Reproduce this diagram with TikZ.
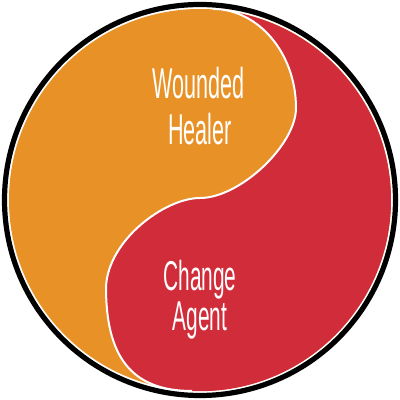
\documentclass[tikz,border=0pt]{standalone}
\usepackage{fontspec}
\usepackage{tikz}
\usepackage{xcolor}
\newfontfamily\labelfont[FakeStretch=0.5]{Liberation Sans}
\definecolor{healerorange}{RGB}{232,145,38}
\definecolor{agentred}{RGB}{209,44,57}

\begin{document}
\begin{tikzpicture}[x=0.025cm,y=0.025cm,
  lobetext/.style={text=white,anchor=base,inner sep=0pt,font=\labelfont\fontsize{30.7pt}{36pt}\selectfont}]
  % Ramme (1 enhet = 1 px, 400 x 400)
  \useasboundingbox (0,0) rectangle (400,400);
  \coordinate (mid) at (200,200);
  % Punkter paa S-kurven
  \coordinate (top) at (213,391);
  \coordinate (bulge) at (296,292);
  \coordinate (centre) at (200,202);
  \coordinate (dent) at (106,113);
  \coordinate (bottom) at (192,9);
  % Oransje skive
  \fill[healerorange] (mid) circle (191);
  % Roed halvdel: S-kurve ned, bue tilbake langs hoeyre side
  \fill[agentred] (top) .. controls (258,391) and (296,347) .. (bulge)
    .. controls (296,255) and (240,202) .. (centre)
    .. controls (165,202) and (108,160) .. (dent)
    .. controls (106,45) and (130,9) .. (bottom)
    arc[start angle=267.6,end angle=446.1,radius=191] -- cycle;
  % Hvit skillelinje
  \draw[white,line width=0.05cm] (top) .. controls (258,391) and (296,347) .. (bulge)
    .. controls (296,255) and (240,202) .. (centre)
    .. controls (165,202) and (108,160) .. (dent)
    .. controls (106,45) and (130,9) .. (bottom);
  % Svart ring
  \draw[black,line width=0.13cm] (mid) circle (195.5);
  % Tekst
  \node[lobetext] (wounded) at (199,301) {Wounded};
  \node[lobetext] (healer) at (200,255) {Healer};
  \node[lobetext,font=\labelfont\fontsize{29.7pt}{36pt}\selectfont] (change) at (200,109) {Change};
  \node[lobetext,font=\labelfont\fontsize{29.7pt}{36pt}\selectfont] (agent) at (200,69) {Agent};
\end{tikzpicture}
\end{document}
